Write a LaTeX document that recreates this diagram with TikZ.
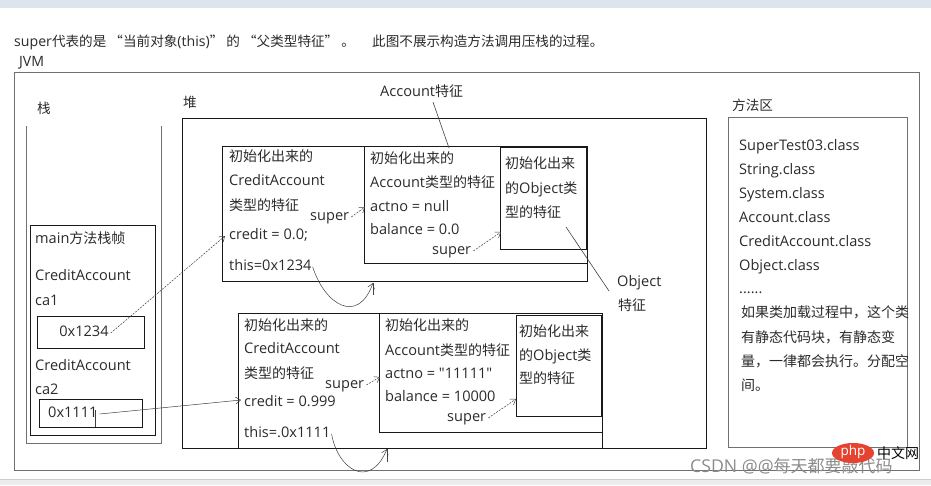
\documentclass[tikz,border=0pt]{standalone}
\usepackage{fontspec}
\setmainfont{Open Sans}[Scale=1.04]
\newfontfamily\plainf{Open Sans}[Scale=1.04]
\newfontfamily\cjk{Noto Sans CJK SC}
\usetikzlibrary{arrows.meta}
\newcommand\zh[1]{{\cjk #1}}
\definecolor{ink}{HTML}{2B2B2B}
\definecolor{frm}{HTML}{707070}
\definecolor{topbar}{HTML}{DCE5EE}
\definecolor{botbar}{HTML}{ECECEC}
\definecolor{phpred}{HTML}{E5432F}
\begin{document}
\begin{tikzpicture}[x=1pt,y=-1pt,
  lbl/.style={anchor=west, inner sep=0pt, text=ink, text height=10pt, text depth=3pt, font=\fontsize{14}{16}\selectfont},
  small/.style={lbl, font=\fontsize{13.6}{15}\selectfont},
  objbox/.style={draw=black!90, line width=0.9pt},
  frame/.style={draw=frm, line width=1pt},
  link/.style={draw=black!75, line width=0.5pt},
  arr/.style={link, -{Straight Barb[length=5pt,width=7pt]}},
  darr/.style={arr, dash pattern=on 2pt off 1.2pt},
]
\useasboundingbox (0,0) rectangle (931,485);
\fill[white] (0,0) rectangle (931,485);
\fill[topbar] (0,0) rectangle (931,8);
\fill[botbar] (0,479) rectangle (931,485);
\draw[black!20] (0,479) -- (931,479);

% title
\node[small] (t1) at (14,43) {super\zh{代表的是 “当前对象}(this)\zh{” 的 “父类型特征” 。}};
\node[small] (t2) at (372,43) {\zh{此图不展示构造方法调用压栈的过程。}};
\node[small] (jvm) at (19,63) {JVM};

% frames
\draw[frame] (14,72) rectangle (919,470);
\node[small] (zhan) at (37,110) {\zh{栈}};
\draw[frame] (26,126) -- (26,443) -- (161,443) -- (161,126);
\node[small] (dui) at (183,104) {\zh{堆}};
\draw[objbox, line width=0.8pt] (182,118) rectangle (706,448);
\node[small] (ff) at (732,107) {\zh{方法区}};
\draw[frame, line width=0.8pt] (728,117) rectangle (907,447);

% stack frame
\draw[objbox] (30,225) rectangle (155,435);
\node[lbl] (mainf) at (35,240) {main\zh{方法栈帧}};
\node[lbl] (ca1t) at (35,277) {CreditAccount};
\node[lbl] (ca1) at (35,302) {ca1};
\draw[objbox] (37,316) rectangle (144,348);
\node[lbl, anchor=center] (v1234) at (84,333) {0x1234};
\node[lbl] (ca2t) at (35,367) {CreditAccount};
\node[lbl] (ca2) at (35,391) {ca2};
\draw[objbox] (39,399) rectangle (142,427);
\node[lbl] (v1111) at (48,414) {0x1111};
\draw[link] (95,410) -- (95,427);

% method area
\node[lbl] (m1) at (739,147) {SuperTest03.class};
\node[lbl] (m2) at (739,171) {String.class};
\node[lbl] (m3) at (739,195) {System.class};
\node[lbl] (m4) at (739,219) {Account.class};
\node[lbl] (m5) at (739,243) {CreditAccount.class};
\node[lbl] (m6) at (739,267) {Object.class};
\node[lbl] (m7) at (739,290) {......};
\node[lbl] (m8) at (741,314) {\zh{如果类加载过程中，这个类}};
\node[lbl] (m9) at (741,339) {\zh{有静态代码块，有静态变}};
\node[lbl] (m10) at (741,363) {\zh{量，一律都会执行。分配空}};
\node[lbl] (m11) at (741,387) {\zh{间。}};

% object 1
\draw[objbox] (222,146) rectangle (587,281);
\draw[objbox, line width=0.6pt] (364,146) rectangle (587,263);
\draw[objbox] (500,147) rectangle (586,249);
\node[lbl] (o1a) at (229,158) {\zh{初始化出来的}};
\node[lbl] (o1b) at (229,182) {CreditAccount};
\node[lbl] (o1c) at (229,207) {\zh{类型的特征}};
\node[lbl] (cr1) at (229,236) {credit = 0.0;};
\node[lbl] (this1) at (229,267) {this=0x1234};
\node[lbl] (s1) at (310,217) {super};
\coordinate (s1t) at (365,207);
\node[lbl] (a1a) at (370,160) {\zh{初始化出来的}};
\node[lbl] (a1b) at (370,184) {Account\zh{类型的特征}};
\node[lbl] (a1c) at (370,208) {actno = null};
\node[lbl] (a1d) at (370,231) {balance = 0.0};
\node[lbl] (s2) at (432,251) {super};
\coordinate (s2t) at (501,232);
\node[lbl] (b1a) at (505,165) {\zh{初始化出来}};
\node[lbl] (b1b) at (505,190) {\zh{的}Object\zh{类}};
\node[lbl] (b1c) at (505,214) {\zh{型的特征}};

% labels
\node[lbl] (accf) at (380,93) {Account\zh{特征}};
\coordinate (accfs) at (433,102);
\coordinate (accft) at (449,148);
\node[lbl] (objf1) at (617,283) {Object};
\node[lbl] (objf2) at (618,307) {\zh{特征}};
\coordinate (objfs) at (566,227);
\coordinate (objft) at (609,291);
\draw[link, line width=0.6pt] (accfs) -- (accft);
\draw[link, line width=0.6pt] (objfs) -- (objft);

% object 2
\draw[objbox] (238,313) rectangle (602,448);
\draw[objbox, line width=0.6pt] (379,313) rectangle (602,432);
\draw[objbox] (516,315) rectangle (601,416);
\node[lbl] (o2a) at (244,327) {\zh{初始化出来的}};
\node[lbl] (o2b) at (244,350) {CreditAccount};
\node[lbl] (o2c) at (244,375) {\zh{类型的特征}};
\node[lbl] (cr2) at (244,403) {credit = 0.999};
\node[lbl] (this2) at (244,434) {this=.0x1111};
\node[lbl] (s3) at (325,385) {super};
\coordinate (s3t) at (380,377);
\node[lbl] (a2a) at (385,327) {\zh{初始化出来的}};
\node[lbl] (a2b) at (385,352) {Account\zh{类型的特征}};
\node[lbl] (a2c) at (385,375) {\plainf actno = "11111"};
\node[lbl] (a2d) at (385,398) {balance = 10000};
\node[lbl] (s4) at (447,418) {super};
\coordinate (s4t) at (516,399);
\node[lbl] (b2a) at (519,333) {\zh{初始化出来}};
\node[lbl] (b2b) at (519,357) {\zh{的}Object\zh{类}};
\node[lbl] (b2c) at (519,380) {\zh{型的特征}};

% connectors
\draw[darr] ([xshift=2pt]v1234.east) -- ([xshift=-4pt]cr1.west);
\draw[arr] ([xshift=2pt]v1111.east) -- ([xshift=-3pt,yshift=3pt]cr2.west);
\draw[darr] ([xshift=2pt]s1.east) -- (s1t);
\draw[darr] ([xshift=2pt]s2.east) -- (s2t);
\draw[darr] ([xshift=2pt]s3.east) -- (s3t);
\draw[darr] ([xshift=2pt]s4.east) -- (s4t);
\coordinate (t1e) at (373,283);
\coordinate (t2e) at (387,449);
\draw[arr] ([xshift=1pt]this1.east) .. controls (325,305) and (358,325) .. (t1e);
\draw[link] (t1e) -- (373,295);
\draw[arr] ([xshift=1pt]this2.east) .. controls (338,470) and (370,490) .. (t2e);
\draw[link] (t2e) -- (387,462);

% watermark
\node[anchor=west, inner sep=0pt, text=black!45, font=\fontsize{17}{19}\selectfont] (wm) at (690,466) {CSDN @@\zh{每天都要敲代码}};
\fill[phpred] (853,453) ellipse (21pt and 10pt);
\node[inner sep=0pt, text=white, font=\fontsize{13}{15}\selectfont] (php) at (853,452) {php};
\node[anchor=west, inner sep=0pt, text=black, font=\fontsize{14}{16}\selectfont] (zwm) at (877,453) {\zh{中文网}};
\end{tikzpicture}
\end{document}
